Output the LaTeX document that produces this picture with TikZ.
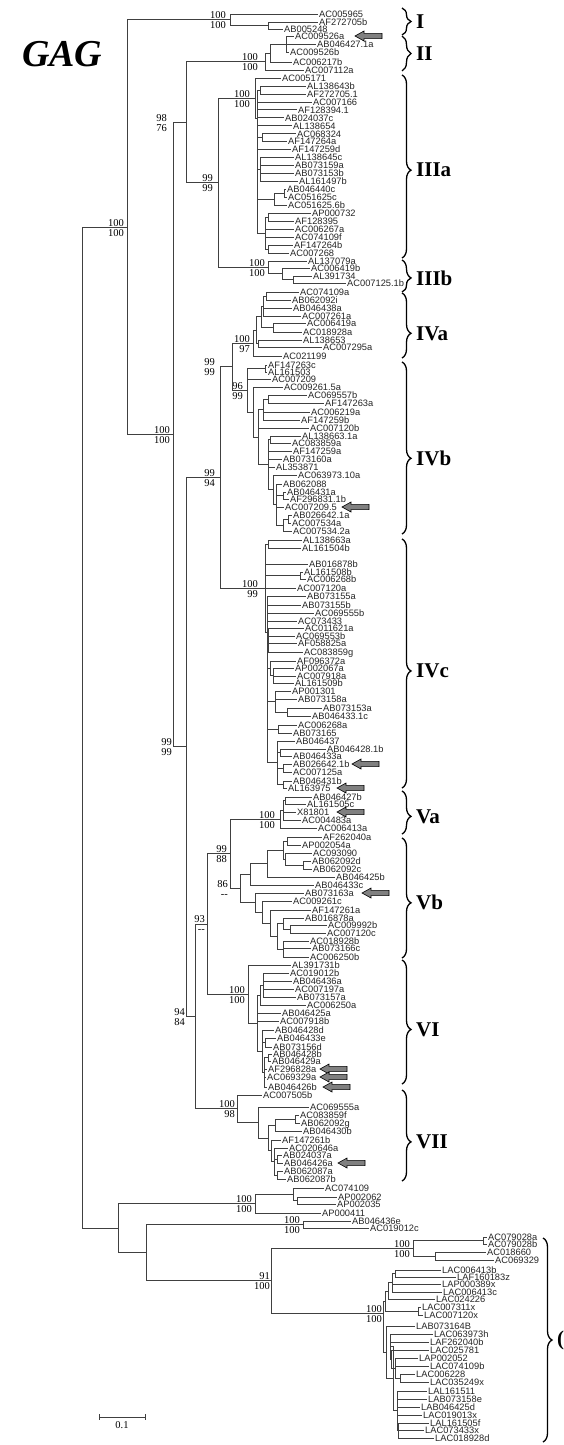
\documentclass[tikz,border=0pt]{standalone}
\usepackage{fontspec}
\setmainfont{Liberation Serif}
\setsansfont{Liberation Sans}
\usetikzlibrary{decorations.pathreplacing}
\makeatletter
\newcommand\Lf[4]{%
  \node[leaf] (#1) at (#3,#2) {#4};%
  \expandafter\xdef\csname Ty@#1\endcsname{#2}%
  \expandafter\xdef\csname Ta@#1\endcsname{#1.west}%
}
\newcommand\Cl[4][]{%
  \xdef\cl@min{9999}\xdef\cl@max{-9999}%
  \foreach \clchild in {#4}{%
    \pgfmathsetmacro\cl@t{\csname Ty@\clchild\endcsname}%
    \pgfmathsetmacro\cl@a{min(\cl@min,\cl@t)}\xdef\cl@min{\cl@a}%
    \pgfmathsetmacro\cl@b{max(\cl@max,\cl@t)}\xdef\cl@max{\cl@b}%
  }%
  \if\relax\detokenize{#1}\relax
    \pgfmathsetmacro\cl@y{(\cl@min+\cl@max)/2}%
  \else
    \def\cl@y{#1}%
  \fi
  \coordinate (#2) at (#3,\cl@y);%
  \expandafter\xdef\csname Ty@#2\endcsname{\cl@y}%
  \expandafter\xdef\csname Ta@#2\endcsname{#2}%
  \foreach \clchild in {#4}{%
    \edef\cl@tmp{\noexpand\draw[br] (#2) |- (\csname Ta@\clchild\endcsname);}\cl@tmp
  }%
}
\newcommand\Bs[4]{%
  \path (#1) ++(#2,-0.8) node[bs,anchor=south east] (bt#1) {#3};%
  \path (#1) ++(#2,1.8) node[bs,anchor=north east] (bb#1) {#4};%
}
\newcommand\Ar[2]{%
  \draw[arr] (#1,#2) -- ++(9,-5) -- ++(0,2.4) -- ++(18,0) -- ++(0,5.2) -- ++(-18,0) -- ++(0,2.4) -- cycle;%
}
\newcommand\Br[6]{%
  \draw[brc, decoration={brace, amplitude=9pt, aspect=#5}, decorate] (#2,#3) -- (#2,#4);%
  \node[clab] (#1) at ({#2+14},{#3+(#4-#3)*#5}) {#6};%
}
\makeatother
\begin{document}
\begin{tikzpicture}[x=1pt,y=-1pt,
  leaf/.style={anchor=west, inner xsep=1pt, inner ysep=0pt, font=\sffamily\fontsize{9.3}{9}\selectfont, text=black!85, text height=6.7pt, text depth=0pt},
  bs/.style={inner sep=0pt, font=\fontsize{10.5}{10}\selectfont, text height=7pt, text depth=0pt},
  br/.style={line width=0.7pt, draw=black!75},
  clab/.style={anchor=west, inner sep=0pt, font=\bfseries\fontsize{21}{21}\selectfont},
  brc/.style={line width=1.3pt},
  arr/.style={fill=black!50, draw=black, line width=0.6pt},
  title/.style={anchor=west, inner sep=0pt, font=\bfseries\itshape\fontsize{38}{38}\selectfont}]
\fill[white] (0,0) rectangle (563,1445);
\useasboundingbox (0,0) rectangle (563,1445);
\node[title] (gag) at (22,54) {GAG};
% ---- clade I
\Lf{a1}{14}{318}{AC005965}
\Lf{a2}{22}{318}{AF272705b}
\Lf{a3}{29}{283}{AB005248}
\Cl{nIb}{268}{a2,a3}
\Cl{nI}{230}{a1,nIb}
\Bs{nI}{-4}{100}{100}
% ---- clade II
\Lf{b1}{36}{294}{AC009526a}
\Lf{b2}{44}{316}{AB046427.1a}
\Lf{b3}{52}{289}{AC009526b}
\Lf{b4}{62}{292}{AC006217b}
\Lf{b5}{70}{304}{AC007112a}
\Cl{nIIa}{286}{b1,b2,b3}
\Cl{nIIb}{270}{nIIa,b4}
\Cl{nII}{265}{nIIb,b5}
\Bs{nII}{-7}{100}{100}
% ---- IIIa
\Lf{c1}{78.0}{281}{AC005171}
\Lf{c2}{86.0}{306}{AL138643b}
\Lf{c3}{93.9}{306}{AF272705.1}
\Lf{c4}{101.9}{312}{AC007166}
\Lf{c5}{109.8}{297}{AF128394.1}
\Lf{c6}{117.8}{284}{AB024037c}
\Lf{c7}{125.7}{292}{AL138654}
\Lf{c8}{133.7}{296}{AC068324}
\Lf{c9}{141.6}{287}{AF147264a}
\Lf{c10}{149.6}{291}{AF147259d}
\Lf{c11}{157.5}{294}{AL138645c}
\Lf{c12}{165.5}{294}{AB073159a}
\Lf{c13}{173.4}{294}{AB073153b}
\Lf{c14}{181.4}{298}{AL161497b}
\Lf{c15}{189.3}{286}{AB046440c}
\Lf{c16}{197.3}{287}{AC051625c}
\Lf{c17}{205.2}{287}{AC051625.6b}
\Lf{c18}{213.2}{311}{AP000732}
\Lf{c19}{221.1}{294}{AF128395}
\Lf{c20}{229.1}{294}{AC006267a}
\Lf{c21}{237.0}{294}{AC074109f}
\Lf{c22}{245.0}{293}{AF147264b}
\Lf{c23}{252.9}{289}{AC007268}
\Cl{q1}{260}{c2,c3}
\Cl{q2}{262}{c8,c9}
\Cl{q3}{260}{c11,c12,c13,c14}
\Cl{q4}{284}{c15,c16}
\Cl{q5}{274}{q4,c17}
\Cl{q6}{268}{c18,c19}
\Cl{q7}{268}{c22,c23}
\Cl{q8}{265}{q6,c20,c21,q7}
\Cl[118]{q9}{257}{q1,c4,c5,c6,c7,q2,c10,q3,q5,q8}
\Cl{nIIIa}{255}{c1,q9}
\Bs{nIIIa}{-5}{100}{100}
% ---- IIIb
\Lf{d1}{261}{307}{AL137079a}
\Lf{d2}{268}{310}{AC006419b}
\Lf{d3}{276}{312}{AL391734}
\Lf{d4}{283}{346}{AC007125.1b}
\Cl{r1}{293}{d3,d4}
\Cl{r2}{282}{d2,r1}
\Cl{nIIIb}{268}{d1,r2}
\Bs{nIIIb}{-3}{100}{100}
\Cl{nIII}{218}{nIIIa,nIIIb}
\Bs{nIII}{-5}{99}{99}
\Cl{nIIIII}{186}{nII,nIII}
\Bs{nIIIII}{-19}{98}{76}
% ---- IVa
\Lf{e1}{292}{299}{AC074109a}
\Lf{e2}{300}{291}{AB062092i}
\Lf{e3}{308}{292}{AB046438a}
\Lf{e4}{316}{301}{AC007261a}
\Lf{e5}{323}{306}{AC006419a}
\Lf{e6}{332}{302}{AC018928a}
\Lf{e7}{340}{302}{AL138653}
\Lf{e8}{347}{322}{AC007295a}
\Lf{e9}{356}{282}{AC021199}
\Cl{s1}{266}{e1,e2}
\Cl{s2}{263}{s1,e3,e4}
\Cl{s3}{273}{e5,e6}
\Cl{s4}{261}{s2,s3}
\Cl{s5}{258}{e7,e8}
\Cl{s6}{256}{s4,s5}
\Cl{nIVa}{253}{s6,e9}
\Bs{nIVa}{-3}{100}{97}
% ---- IVb
\Lf{f1}{365}{267}{AF147263c}
\Lf{f2}{372}{267}{AL161503}
\Lf{f3}{379}{271}{AC007209}
\Lf{f4}{387}{283}{AC009261.5a}
\Lf{f5}{395}{307}{AC069557b}
\Lf{f6}{403}{324}{AF147263a}
\Lf{f7}{412}{310}{AC006219a}
\Lf{f8}{420}{300}{AF147259b}
\Lf{f9}{428}{309}{AC007120b}
\Lf{f10}{436}{301}{AL138663.1a}
\Lf{f11}{443}{291}{AC083859a}
\Lf{f12}{451}{292}{AF147259a}
\Lf{f13}{459}{282}{AB073160a}
\Lf{f14}{467}{275}{AL353871}
\Lf{f15}{475}{297}{AC063973.10a}
\Lf{f16}{484}{282}{AB062088}
\Lf{f17}{492}{286}{AB046431a}
\Lf{f18}{499}{289}{AF296831.1b}
\Lf{f19}{507}{284}{AC007209.5}
\Lf{f20}{515}{292}{AB026642.1a}
\Lf{f21}{523}{291}{AC007534a}
\Lf{f22}{531}{292}{AC007534.2a}
\Cl{t1}{265}{f1,f2}
\Cl{t2}{268}{f5,f6}
\Cl{t3}{263}{t2,f7,f8}
\Cl{t4}{270}{f10,f11}
\Cl{t5}{283}{f17,f18}
\Cl{t6}{288}{f20,f21}
\Cl{t7}{283}{t6,f22}
\Cl{t8}{276}{f16,t5,f19,t7}
\Cl{t9}{273}{f15,t8}
\Cl{t10}{268}{t4,f12,f13,f14,t9}
\Cl{t11}{258}{t3,f9,t10}
\Cl{t12}{253}{f4,t11}
\Cl{nIVb}{247}{t1,f3,t12}
\Bs{nIVb}{-4}{96}{99}
\Cl{nIVab}{232}{nIVa,nIVb}
\Bs{nIVab}{-17}{99}{99}
% ---- IVc
\Lf{g1}{540}{302}{AL138663a}
\Lf{g2}{548}{301}{AL161504b}
\Lf{g3}{564}{308}{AB016878b}
\Lf{g4}{572}{303}{AL161508b}
\Lf{g5}{579}{306}{AC006268b}
\Lf{g6}{588}{296}{AC007120a}
\Lf{g7}{596}{306}{AB073155a}
\Lf{g8}{605}{301}{AB073155b}
\Lf{g9}{613}{314}{AC069555b}
\Lf{g10}{621}{297}{AC073433}
\Lf{g11}{628}{304}{AC011621a}
\Lf{g12}{636}{295}{AC069553b}
\Lf{g13}{643}{297}{AF058825a}
\Lf{g14}{652}{303}{AC083859g}
\Lf{g15}{661}{296}{AF096372a}
\Lf{g16}{668}{294}{AP002067a}
\Lf{g17}{676}{296}{AC007918a}
\Lf{g18}{683}{294}{AL161509b}
\Lf{g19}{691}{291}{AP001301}
\Lf{g20}{699}{297}{AB073158a}
\Lf{g21}{708}{322}{AB073153a}
\Lf{g22}{716}{311}{AB046433.1c}
\Lf{g23}{725}{297}{AC006268a}
\Lf{g24}{733}{292}{AB073165}
\Lf{g25}{741}{295}{AB046437}
\Lf{g26}{749}{326}{AB046428.1b}
\Lf{g27}{756}{292}{AB046433a}
\Lf{g28}{764}{292}{AB026642.1b}
\Lf{g29}{772}{292}{AC007125a}
\Lf{g30}{781}{292}{AB046431b}
\Lf{g31}{788}{287}{AL163975}
\Cl{u1}{268}{g1,g2}
\Cl{u2}{300}{g4,g5}
\Cl{u3}{268}{g11,g12,g13,g14}
\Cl{u4}{273}{g16,g17,g18}
\Cl{u5}{270}{g15,u4}
\Cl{u6}{287}{g21,g22}
\Cl{u7}{275}{g19,g20,u6}
\Cl{u8}{278}{g23,g24}
\Cl{u9}{280}{g26,g27}
\Cl{u10}{283}{g28,g29}
\Cl{u11}{283}{g30,g31}
\Cl{u12}{277}{g25,u9,u10,u11}
\Cl[632]{u13}{267}{g7,g8,g9,g10,u3,u5,u7,u8,u12}
\Cl{nIVc}{265}{u1,g3,u2,g6,u13}
\Bs{nIVc}{-7}{100}{99}
\Cl{nIV}{220}{nIVab,nIVc}
\Bs{nIV}{-5}{99}{94}
% ---- Va
\Lf{h1}{797}{312}{AB046427b}
\Lf{h2}{804}{306}{AL161505c}
\Lf{h3}{812}{296}{X81801}
\Lf{h4}{820}{301}{AC004483a}
\Lf{h5}{828}{317}{AC006413a}
\Cl{v1}{285}{h1,h2}
\Cl{v2}{283}{v1,h3,h4}
\Cl{nVa}{280}{v2,h5}
\Bs{nVa}{-5}{100}{100}
% ---- Vb
\Lf{i1}{837}{322}{AF262040a}
\Lf{i2}{845}{301}{AP002054a}
\Lf{i3}{853}{312}{AC093090}
\Lf{i4}{861}{311}{AB062092d}
\Lf{i5}{869}{312}{AB062092c}
\Lf{i6}{877}{335}{AB046425b}
\Lf{i7}{885}{314}{AB046433c}
\Lf{i8}{893}{304}{AB073163a}
\Lf{i9}{901}{292}{AC009261c}
\Lf{i10}{910}{311}{AF147261a}
\Lf{i11}{918}{304}{AB016878a}
\Lf{i12}{925}{327}{AC009992b}
\Lf{i13}{933}{326}{AC007120c}
\Lf{i14}{941}{309}{AC018928b}
\Lf{i15}{948}{311}{AB073166c}
\Lf{i16}{957}{309}{AC006250b}
\Cl{w1}{303}{i4,i5}
\Cl{w2}{287}{i1,i2}
\Cl{w3}{285}{i3,w1}
\Cl{w4}{283}{w2,w3}
\Cl{w5}{267}{w4,i6}
\Cl{w6}{250}{w5,i7}
\Cl{w7}{290}{i12,i13}
\Cl{w8}{283}{i11,w7}
\Cl{w9}{283}{i14,i15,i16}
\Cl{w10}{277}{w8,w9}
\Cl{w11}{270}{i10,w10}
\Cl{w12}{262}{i9,w11}
\Cl{w13}{255}{i8,w12}
\Cl{nVb}{240}{w6,w13}
\Bs{nVb}{-12}{86}{{-}{-}}
\Cl{nV}{230}{nVa,nVb}
\Bs{nV}{-3}{99}{88}
% ---- VI
\Lf{k1}{965}{291}{AL391731b}
\Lf{k2}{973}{289}{AC019012b}
\Lf{k3}{981}{292}{AB046436a}
\Lf{k4}{989}{294}{AC007197a}
\Lf{k5}{997}{296}{AB073157a}
\Lf{k6}{1005}{306}{AC006250a}
\Lf{k7}{1013}{281}{AB046425a}
\Lf{k8}{1021}{279}{AC007918b}
\Lf{k9}{1030}{274}{AB046428d}
\Lf{k10}{1038}{276}{AB046433e}
\Lf{k11}{1047}{272}{AB073156d}
\Lf{k12}{1054}{272}{AB046428b}
\Lf{k13}{1061}{271}{AB046429a}
\Lf{k14}{1069}{267}{AF296828a}
\Lf{k15}{1077}{266}{AC069329a}
\Lf{k16}{1087}{267}{AB046426b}
\Cl{x1}{263}{k2,k3,k4,k5}
\Cl{x2}{260}{x1,k6}
\Cl{x3}{265}{k10,k11}
\Cl{x4}{268}{k12,k13}
\Cl{x5}{264}{x4,k14,k15,k16}
\Cl{x6}{262}{k9,x3,x5}
\Cl{x7}{257}{x2,k7,k8,x6}
\Cl{nVI}{248}{k1,x7}
\Bs{nVI}{-3}{100}{100}
\Cl{nVVI}{207}{nV,nVI}
\Bs{nVVI}{-2}{93}{{-}{-}}
% ---- VII
\Lf{m1}{1095}{262}{AC007505b}
\Lf{m2}{1107}{309}{AC069555a}
\Lf{m3}{1115}{299}{AC083859f}
\Lf{m4}{1123}{300}{AB062092g}
\Lf{m5}{1131}{302}{AB046430b}
\Lf{m6}{1140}{281}{AF147261b}
\Lf{m7}{1148}{288}{AC020646a}
\Lf{m8}{1155}{282}{AB024037a}
\Lf{m9}{1163}{283}{AB046426a}
\Lf{m10}{1171}{283}{AB062087a}
\Lf{m11}{1179}{286}{AB062087b}
\Cl{y1}{295}{m3,m4}
\Cl{y2}{275}{y1,m5}
\Cl{y3}{277}{m8,m9}
\Cl{y4}{277}{m10,m11}
\Cl{y5}{274}{m7,y3,y4}
\Cl{y6}{271}{m6,y5}
\Cl{y7}{268}{y2,y6}
\Cl{y8}{258}{m2,y7}
\Cl{nVII}{237}{m1,y8}
\Bs{nVII}{-2}{100}{98}
\Cl{nVtoVII}{195}{nVVI,nVII}
\Bs{nVtoVII}{-10}{94}{84}
\Cl{nIVtoVII}{186}{nIV,nVtoVII}
\Bs{nIVtoVII}{-14}{99}{99}
\Cl{nIng}{173}{nIIIII,nIVtoVII}
\Bs{nIng}{-3}{100}{100}
\Cl{nIn}{127}{nI,nIng}
\Bs{nIn}{-3}{100}{100}
% ---- outgroup
\Lf{o1}{1188}{324}{AC074109}
\Lf{o2}{1197}{337}{AP002062}
\Lf{o3}{1204}{336}{AP002035}
\Lf{o4}{1213}{321}{AP000411}
\Lf{o5}{1221}{351}{AB046436e}
\Lf{o6}{1228}{369}{AC019012c}
\Lf{o7}{1237}{487}{AC079028a}
\Lf{o8}{1244}{487}{AC079028b}
\Lf{o9}{1252}{486}{AC018660}
\Lf{o10}{1260}{494}{AC069329}
\Cl{z1}{297}{o2,o3}
\Cl{z2}{293}{o1,z1}
\Cl{nO2}{255}{z2,o4}
\Bs{nO2}{-3}{100}{100}
\Cl{nO5}{303}{o5,o6}
\Bs{nO5}{-3}{100}{100}
\Cl{z3}{483}{o7,o8}
\Cl{z4}{435}{o9,o10}
\Cl{nA}{413}{z3,z4}
\Bs{nA}{-3}{100}{100}
\Lf{p1}{1270}{441}{LAC006413b}
\Lf{p2}{1277}{456}{LAF160183z}
\Lf{p3}{1284}{441}{LAP000389x}
\Lf{p4}{1292}{442}{LAC006413c}
\Lf{p5}{1299}{435}{LAC024226}
\Lf{p6}{1307}{421}{LAC007311x}
\Lf{p7}{1315}{423}{LAC007120x}
\Lf{p8}{1326}{415}{LAB073164B}
\Lf{p9}{1334}{433}{LAC063973h}
\Lf{p10}{1342}{429}{LAF262040b}
\Lf{p11}{1350}{429}{LAC025781}
\Lf{p12}{1358}{418}{LAP002052}
\Lf{p13}{1366}{429}{LAC074109b}
\Lf{p14}{1374}{415}{LAC006228}
\Lf{p15}{1382}{429}{LAC035249x}
\Lf{p16}{1391}{427}{LAL161511}
\Lf{p17}{1399}{427}{LAB073158e}
\Lf{p18}{1407}{420}{LAB046425d}
\Lf{p19}{1415}{422}{LAC019013x}
\Lf{p20}{1423}{429}{LAL161505f}
\Lf{p21}{1430}{424}{LAC073433x}
\Lf{p22}{1438}{434}{LAC018928d}
\Cl{P1}{395}{p1,p2}
\Cl{P2}{392}{P1,p3,p4}
\Cl{P3}{388}{P2,p5}
\Cl{P4}{418}{p6,p7}
\Cl{P5}{385}{P3,P4}
\Cl{P7}{400}{p14,p15}
\Cl{P8}{395}{p12,p13,P7}
\Cl{P9}{391}{p11,P8}
\Cl{P10}{390}{p9,p10,P9}
\Cl{P11}{398}{p20,p21,p22}
\Cl{P12}{397}{p16,p17,p18,p19,P11}
\Cl{P13}{393}{P10,P12}
\Cl{P14}{386}{p8,P13}
\Cl[1313]{nL}{383}{P5,P14}
\Bs{nL}{-1}{100}{100}
\Cl{nO4}{271}{nA,nL}
\Bs{nO4}{-1}{91}{100}
\Cl{nO3}{146}{nO5,nO4}
\Cl{nO1}{118}{nO2,nO3}
% ---- root
\Cl{nRoot}{82}{nIn,nO1}
% ---- arrows
\Ar{355}{36}
\Ar{342}{507}
\Ar{352}{764}
\Ar{337}{788}
\Ar{337}{812}
\Ar{362}{893}
\Ar{320}{1069}
\Ar{320}{1077}
\Ar{323}{1087}
\Ar{338}{1163}
% ---- braces
\Br{bI}{402}{8}{35}{0.5}{I}
\Br{bII}{402}{36}{71}{0.5}{II}
\Br{bIIIa}{402}{75}{258}{0.52}{IIIa}
\Br{bIIIb}{402}{260}{292}{0.56}{IIIb}
\Br{bIVa}{402}{293}{358}{0.62}{IVa}
\Br{bIVb}{402}{362}{534}{0.56}{IVb}
\Br{bIVc}{402}{539}{788}{0.53}{IVc}
\Br{bVa}{402}{791}{834}{0.59}{Va}
\Br{bVb}{402}{838}{958}{0.54}{Vb}
\Br{bVI}{402}{960}{1084}{0.56}{VI}
\Br{bVII}{402}{1090}{1181}{0.57}{VII}
\Br{bOut}{543}{1238}{1442}{0.5}{(}
% ---- scale bar
\coordinate (sbL) at (99,1417);
\coordinate (sbR) at (145,1417);
\draw[br] (sbL) -- (sbR);
\draw[br] ([yshift=3pt]sbL) -- ([yshift=-3pt]sbL);
\draw[br] ([yshift=3pt]sbR) -- ([yshift=-3pt]sbR);
\node[bs, anchor=north] (sbT) at (122,1421) {0.1};
\end{tikzpicture}
\end{document}
